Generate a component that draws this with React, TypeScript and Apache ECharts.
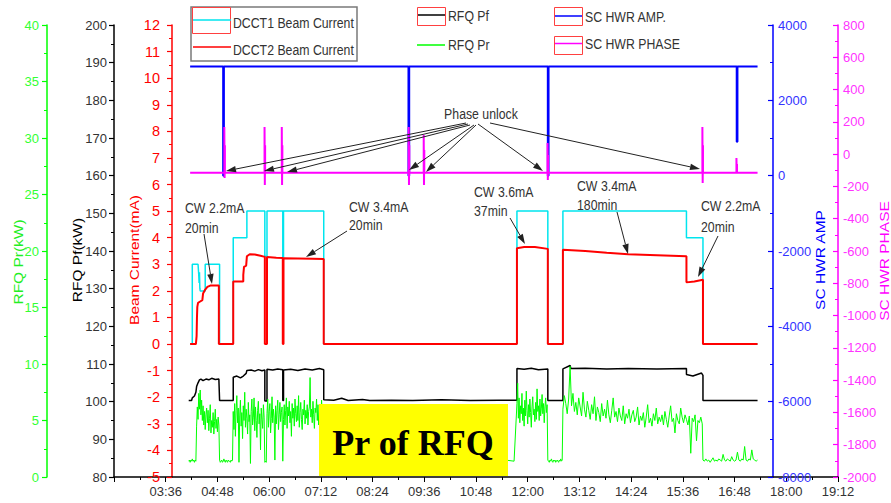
import React, { useEffect, useRef } from 'react';
import * as echarts from 'echarts';

// time in minutes since 00:00
const dcct1: [number, number][] = [
  [250, 0], [253, 0], [253, 3], [261, 3], [262, 2.6], [262.5, 2.3], [263, 2.7], [263.5, 2.1], [264, 2], [271, 2], [271, 3],
  [291, 3], [291, 0], [310, 0], [310, 4], [329, 4], [329, 5], [354, 5], [354, 3.3], [357, 3.3], [357, 5], [379, 5],
  [379, 3.2], [380, 3.2], [380, 5], [436, 5], [436, 0], [705, 0], [705, 5], [748, 5], [748, 0], [769, 0], [769, 5],
  [941, 5], [941, 4], [964, 4], [964, 0], [1040, 0],
];

const dcct2: [number, number][] = [
  [250, 0], [258, 0], [259, 0.3], [259.5, 1.0], [260, 1.4], [261, 1.55], [264, 1.6], [267, 1.65], [268, 1.9], [271, 2.05],
  [274, 2.15], [278, 2.2], [290, 2.2], [290, 0], [310, 0], [310, 2.35], [324, 2.35], [324, 2.6], [325, 2.9], [328, 2.95],
  [329, 3.3], [333, 3.38], [340, 3.37], [348, 3.32], [354, 3.28], [354, 0], [357, 0], [357, 3.27], [370, 3.25], [379, 3.24],
  [379, 0], [380, 0], [380, 3.23], [400, 3.22], [420, 3.21], [436, 3.2], [436, 0], [705, 0], [705, 3.6], [715, 3.65],
  [730, 3.65], [748, 3.58], [748, 0], [769, 0], [769, 3.55], [800, 3.5], [830, 3.43], [860, 3.38], [900, 3.34], [941, 3.3],
  [941, 2.32], [952, 2.35], [964, 2.42], [964, 0], [1040, 0],
];

const rfqPf: [number, number][] = [
  [248, 100.3], [252, 100.3], [253, 101], [256, 101.5], [258, 102.5], [259, 104], [261, 105], [263, 105.8], [265, 106],
  [268, 105.6], [272, 106], [276, 105.8], [280, 106.2], [285, 105.9], [290, 106], [291, 100.3], [310, 100.3], [310, 106.5],
  [315, 106.8], [320, 106.3], [324, 106.8], [328, 107.5], [329, 108.3], [335, 108.4], [340, 108.1], [345, 108.5], [350, 108.2],
  [354, 108.4], [354, 100.2], [357, 100.2], [357, 108.6], [365, 108.4], [372, 108.7], [379, 108.5], [379, 100.3], [380, 100.3],
  [380, 108.4], [390, 108.6], [400, 108.3], [410, 108.7], [420, 108.4], [430, 108.8], [436, 108.5], [436, 100.5], [450, 100.4],
  [461, 100.9], [470, 100.3], [490, 100.6], [500, 100.3], [530, 100.4], [560, 100.3], [600, 100.5], [640, 100.3], [680, 100.4],
  [705, 100.4], [705, 108.8], [715, 108.6], [725, 108.9], [735, 108.5], [748, 108.7], [748, 100.3], [769, 100.3], [769, 108.7],
  [779, 109.6], [780, 108.8], [800, 108.9], [830, 108.7], [860, 108.8], [900, 108.7], [941, 108.8], [941, 107.2], [950, 106.8],
  [962, 107.6], [964, 107], [964, 100.3], [1040, 100.3],
];

// RFQ Pr: runs of samples (start minute, step in minutes, values in kW)
const prBase1 = [1.4, 1.5, 1.3, 1.5, 1.4, 1.6, 1.4, 1.5, 1.3, 1.5, 1.4];
const prBeam1 = [4.5, 6.2, 5.1, 7.4, 6.0, 7.7, 5.5, 6.8, 5.0, 6.3, 4.6, 5.8, 4.2, 5.5, 6.1, 4.8, 5.9, 4.1, 5.2, 6.4, 3.9, 5.0, 4.4, 5.7, 3.8, 4.9, 6.0, 4.3, 5.1, 4.0, 5.3, 4.6];
const prBase2 = [1.5, 1.3, 1.4, 1.5, 1.3, 1.4, 1.6, 1.4, 1.3, 1.5, 1.4, 1.3, 1.5, 1.4, 1.4, 1.3, 1.5, 1.4, 1.5];
const prBeam2 = [5.8, 4.2, 6.5, 3.6, 5.9, 7.2, 4.8, 6.1, 1.3, 5.4, 6.8, 4.5, 5.7, 3.4, 6.3, 5.0, 7.5, 4.4, 6.0, 5.2, 3.8, 6.6, 4.9, 5.5, 1.2, 5.8, 6.9, 4.6, 5.3, 7.0, 4.1, 6.2, 5.0, 3.5, 5.9, 6.7, 4.7, 5.6, 2.4, 6.1, 5.1, 4.3, 6.4, 5.3];
const prGap1 = [1.3, 1.4, 1.3];
const prBeam3 = [5.6, 6.9, 4.4, 5.8, 6.5, 3.9, 5.2, 7.1, 4.8, 6.0, 5.3, 1.5, 6.3, 4.7, 5.9, 6.8, 4.2, 5.5, 6.6, 4.9, 5.7, 6.2];
const prGap2 = [1.4];
const prBeam4 = [5.1, 6.4, 4.6, 5.9, 7.0, 4.3, 6.2, 5.4, 6.7, 4.8, 5.8, 3.6, 6.5, 5.2, 6.1, 4.5, 6.9, 5.6, 4.9, 6.3, 5.0, 7.2, 4.4, 5.7, 6.6, 5.1, 4.2, 6.0, 5.5, 6.8, 4.7, 5.9, 5.2, 6.4, 4.6, 5.8, 6.2, 8.8, 5.3, 6.0, 4.8, 6.7, 5.5, 4.3, 6.1, 5.7, 6.9, 5.0, 6.4, 4.6, 5.9, 6.3, 5.2, 6.8, 5.6, 6.1, 5.8];
const prBase3 = [1.5, 1.4, 1.6, 1.4, 1.5, 1.3, 1.5, 1.4, 1.6, 1.5, 1.4, 1.3, 1.5, 1.4, 1.6, 1.5, 1.4, 1.5, 1.3, 1.5, 1.4, 1.5, 1.4];
const prBeam5 = [6.5, 8.3, 5.2, 7.0, 4.8, 6.3, 5.6, 7.4, 5.0, 6.1, 4.5, 6.8, 5.4, 7.6, 5.9, 4.7, 6.4, 5.3, 6.9, 5.7, 4.4, 6.2, 7.1, 5.5, 6.0, 4.9, 6.6, 5.1, 7.8, 5.8, 6.3, 5.0, 6.9, 5.4, 6.1, 7.3, 5.6, 6.5, 4.8, 6.2, 7.0, 5.7, 6.4];
const prBase4 = [1.5, 1.4, 1.3, 1.5, 1.4, 1.6, 1.4, 1.3, 1.5, 1.4, 1.5, 1.3, 1.4, 1.5, 1.4, 1.3, 1.5, 1.4, 1.6, 1.4, 1.5];
const prBeam6 = [
  6.0, 7.2, 6.5, 5.6, 6.9, 9.8, 6.3, 7.4, 5.8, 6.6, 5.5, 7.0, 6.2, 5.4, 7.5, 6.0, 5.3, 6.7, 5.9, 5.1,
  6.4, 5.6, 7.1, 5.0, 6.2, 5.7, 4.9, 6.5, 5.4, 6.0, 5.2, 6.8, 5.5, 4.8, 5.9, 7.0, 5.3, 5.8, 4.9, 6.1,
  5.4, 5.0, 6.3, 4.7, 5.6, 5.2, 6.0, 4.8, 5.5, 5.9, 4.9, 5.3, 6.2, 4.6, 5.4, 5.0, 5.7, 4.4, 5.3, 6.4,
  4.8, 5.2, 4.5, 5.6, 5.0, 6.1, 4.7, 5.3, 4.9, 5.5, 4.6, 5.8, 5.1, 4.4, 5.4, 6.3, 4.9, 5.2, 3.9, 5.6,
  5.0, 4.7, 6.1, 5.3, 4.8, 5.5, 5.1, 4.6, 5.4, 2.1, 5.2, 4.9, 5.5, 3.2, 5.0, 4.8, 5.3, 4.7,
];
const prBase5 = [1.5, 1.4, 1.6, 1.4, 1.5, 1.3, 1.5, 1.7, 1.4, 1.5, 1.4, 1.6, 1.5, 1.4, 2.0, 1.5, 1.4, 1.6, 1.5, 1.4, 1.8, 1.5, 1.4, 1.5, 2.2, 1.5, 1.4, 1.6, 1.5, 2.7, 1.5, 1.4, 1.6, 1.5, 2.4, 1.6, 1.5, 1.4, 1.5];

const prRuns: [number, number, number[]][] = [
  [248, 1, prBase1], [259, 1, prBeam1], [291, 1, prBase2], [310, 1, prBeam2], [354, 1, prGap1], [357, 1, prBeam3],
  [379, 1, prGap2], [380, 1, prBeam4], [437, 12, prBase3], [705, 1, prBeam5], [748, 1, prBase4], [769, 2, prBeam6],
  [964, 2, prBase5],
];

const hwrAmp: [number, number][] = [
  [250, 2900], [296, 2900], [296, 0], [297, 0], [297, 2900], [554, 2900], [554, 0], [555, 0], [555, 2900], [748, 2900],
  [748, 0], [749, 0], [749, 2900], [1011, 2900], [1011, 900], [1012, 900], [1012, 2900], [1040, 2900],
];

const phaseBase = -115;
// spikes: [minute, top, bottom]
const phaseSpikes: [number, number, number][] = [
  [298, 168, -148], [354, 168, -191], [378, 168, -191], [554.7, 168, -191], [575.6, 119, -191], [748, 69, -160],
  [963.6, 168, -179], [1011, -24, -117],
];

const FONT = "'Liberation Sans', Arial, sans-serif";
const SX = 0.82; // horizontal compression seen in the reference

function hhmm(m: number) {
  const h = Math.floor(m / 60);
  const mm = Math.round(m - h * 60);
  return `${String(h).padStart(2, '0')}:${String(mm).padStart(2, '0')}`;
}

function arrow(x1: number, y1: number, x2: number, y2: number, color = '#222') {
  const dx = x2 - x1, dy = y2 - y1;
  const L = Math.hypot(dx, dy);
  const ux = dx / L, uy = dy / L;
  const hl = 10, hw = 3.2;
  const bx = x2 - ux * hl, by = y2 - uy * hl;
  const px = -uy * hw, py = ux * hw;
  return [
    { type: 'line', z: 110, shape: { x1, y1, x2: bx, y2: by }, style: { stroke: color, lineWidth: 1 } },
    { type: 'polygon', z: 110, shape: { points: [[x2, y2], [bx + px, by + py], [bx - px, by - py]] }, style: { fill: color } },
  ];
}

function label(text: string, x: number, y: number, opts: any = {}) {
  return {
    type: 'text', x, y, z: 110, scaleX: SX,
    style: {
      text, fill: opts.fill || '#333', fontSize: opts.fontSize || 15, fontFamily: FONT,
      align: opts.align || 'left', verticalAlign: 'middle',
    },
  };
}

function vTitle(text: string, x: number, y: number, fill: string) {
  return {
    type: 'text', x, y, rotation: Math.PI / 2, scaleY: 0.86, z: 110,
    style: { text, fill, fontSize: 15.5, fontFamily: FONT, align: 'center', verticalAlign: 'middle' },
  };
}

function yAx(o: any) {
  return {
    type: 'value', position: o.position, offset: o.offset, min: o.min, max: o.max, interval: o.interval,
    axisLine: { show: true, onZero: false, lineStyle: { color: o.color, width: 1.5 } },
    axisTick: { show: true, length: 5, inside: !!o.inside, lineStyle: { color: o.color, width: 1.2 } },
    minorTick: { show: true, splitNumber: 2, length: 3, lineStyle: { color: o.color, width: 1 } },
    splitLine: { show: false }, minorSplitLine: { show: false },
    axisLabel: { color: o.labelColor, fontSize: o.fontSize || 13, fontFamily: FONT, margin: o.margin, formatter: (v: number) => String(v) },
  };
}

export default function App() {
  const ref = useRef<HTMLDivElement>(null);
  useEffect(() => {
    document.body.style.margin = '0';
    const chart = echarts.init(ref.current!, undefined, { renderer: 'svg' });

    const prData: [number, number][] = [];
    prRuns.forEach(([start, step, vals]) => vals.forEach((v, i) => prData.push([start + i * step, v])));

    const phaseData: [number, number][] = [[250, phaseBase]];
    phaseSpikes.forEach(([t, top, bot]) => {
      phaseData.push([t - 0.4, phaseBase], [t - 0.4, top], [t, bot], [t + 0.4, top * 0.6 + phaseBase * 0.4], [t + 0.4, phaseBase]);
    });
    phaseData.push([1040, phaseBase]);

    const line = (data: any, color: string, width: number, yAxisIndex: number) => ({
      type: 'line', data, yAxisIndex, showSymbol: false, symbol: 'none', lineStyle: { color, width }, itemStyle: { color },
    });

    const legendItems = [
      { type: 'rect', z: 105, shape: { x: 191, y: 7, width: 166, height: 54 }, style: { fill: '#fff', stroke: '#7a7a7a', lineWidth: 1.5 } },
      { type: 'rect', z: 106, shape: { x: 192.5, y: 7.5, width: 38, height: 26 }, style: { fill: 'none', stroke: '#ff4040', lineWidth: 1 } },
      { type: 'line', z: 107, shape: { x1: 193, y1: 20, x2: 231, y2: 20 }, style: { stroke: '#00e5ee', lineWidth: 1.5 } },
      label('DCCT1 Beam Current', 233, 23),
      { type: 'line', z: 107, shape: { x1: 193, y1: 47, x2: 231, y2: 47 }, style: { stroke: '#ff0000', lineWidth: 1.5 } },
      label('DCCT2 Beam Current', 233, 50),
      { type: 'rect', z: 106, shape: { x: 417.5, y: 7.5, width: 28, height: 18 }, style: { fill: 'none', stroke: '#ff4040', lineWidth: 1 } },
      { type: 'line', z: 107, shape: { x1: 418, y1: 15, x2: 445, y2: 15 }, style: { stroke: '#000', lineWidth: 1.5 } },
      label('RFQ Pf', 448, 16),
      { type: 'line', z: 107, shape: { x1: 417, y1: 45, x2: 445, y2: 45 }, style: { stroke: '#00ff00', lineWidth: 1.5 } },
      label('RFQ Pr', 448, 45),
      { type: 'rect', z: 106, shape: { x: 554.5, y: 7.5, width: 28, height: 18 }, style: { fill: 'none', stroke: '#ff4040', lineWidth: 1 } },
      { type: 'line', z: 107, shape: { x1: 555, y1: 16, x2: 582, y2: 16 }, style: { stroke: '#0000ff', lineWidth: 1.5 } },
      label('SC HWR AMP.', 585, 17),
      { type: 'rect', z: 106, shape: { x: 554.5, y: 36.5, width: 28, height: 18 }, style: { fill: 'none', stroke: '#ff4040', lineWidth: 1 } },
      { type: 'line', z: 107, shape: { x1: 555, y1: 43.5, x2: 582, y2: 43.5 }, style: { stroke: '#ff00ff', lineWidth: 1.5 } },
      label('SC HWR PHASE', 585, 44),
    ];

    const annotations = [
      label('Phase unlock', 481, 114, { align: 'center' }),
      ...arrow(466, 123, 226, 171),
      ...arrow(468, 124, 264, 171),
      ...arrow(470, 125, 287, 172),
      ...arrow(474, 125, 409, 170),
      ...arrow(476, 125, 426, 172),
      ...arrow(478, 124, 543, 171),
      ...arrow(490, 123, 700, 169),
      label('CW 2.2mA', 185, 208), label('20min', 185, 228),
      ...arrow(204, 234, 212, 284),
      label('CW 3.4mA', 349, 207), label('20min', 349, 225),
      ...arrow(347, 231, 306, 257),
      label('CW 3.6mA', 474, 192), label('37min', 474, 211),
      ...arrow(510, 218, 525, 244),
      label('CW 3.4mA', 577, 186), label('180min', 577, 205),
      ...arrow(617, 212, 628, 254),
      label('CW 2.2mA', 701, 206), label('20min', 701, 227),
      ...arrow(718, 236, 698, 277),
    ];

    const titles = [
      vTitle('RFQ Pr(kW)', 18, 262, '#22ee22'),
      vTitle('RFQ Pf(kW)', 77, 260, '#000'),
      vTitle('Beam Current(mA)', 134, 260, '#ff0000'),
      vTitle('SC HWR AMP', 820, 260, '#0000ff'),
      vTitle('SC HWR PHASE', 884, 261, '#ff00ff'),
    ];

    const box = [
      { type: 'rect', z: 120, shape: { x: 319, y: 404, width: 189, height: 72 }, style: { fill: '#ffff00' } },
      {
        type: 'text', x: 413, y: 443, z: 121,
        style: { text: 'Pr of RFQ', fill: '#000', fontSize: 36, fontWeight: 'bold', fontFamily: "'Liberation Serif', 'Times New Roman', serif", align: 'center', verticalAlign: 'middle' },
      },
    ];

    chart.setOption({
      animation: false,
      backgroundColor: '#fff',
      grid: { left: 114, right: 53, top: 25, bottom: 26, containLabel: false },
      xAxis: {
        type: 'value', min: 144, max: 1152, interval: 72,
        axisLine: { show: true, onZero: false, lineStyle: { color: '#000', width: 1.5 } },
        axisTick: { show: true, length: 5, lineStyle: { color: '#000' } },
        minorTick: { show: true, splitNumber: 2, length: 3, lineStyle: { color: '#000' } },
        splitLine: { show: false },
        axisLabel: { color: '#333', fontSize: 13, fontFamily: FONT, margin: 8, showMinLabel: false, formatter: (v: number) => (v === 144 ? '' : hhmm(v)) },
      },
      yAxis: [
        yAx({ position: 'left', offset: 67, min: 0, max: 40, interval: 5, color: '#00ff00', labelColor: '#33ff33', margin: 8 }),
        yAx({ position: 'left', offset: 0, min: 80, max: 200, interval: 10, color: '#000', labelColor: '#333', margin: 7 }),
        yAx({ position: 'left', offset: -58, min: -5, max: 12, interval: 1, color: '#ff0000', labelColor: '#ff0000', margin: 12, fontSize: 14.5 }),
        yAx({ position: 'right', offset: -65, min: -8000, max: 4000, interval: 2000, color: '#0000ff', labelColor: '#3333ff', margin: 5, inside: true }),
        yAx({ position: 'right', offset: 0, min: -2000, max: 800, interval: 200, color: '#ff00ff', labelColor: '#ff33ff', margin: 5, inside: true }),
      ],
      series: [
        line(dcct1, '#00e5ee', 1.5, 2),
        line(dcct2, '#ff0000', 2, 2),
        line(rfqPf, '#000000', 1.5, 1),
        line(prData, '#00ff00', 1, 0),
        line(hwrAmp, '#0000ff', 2, 3),
        line(phaseData, '#ff00ff', 2, 4),
      ],
      graphic: [...legendItems, ...annotations, ...titles, ...box],
    });
    return () => chart.dispose();
  }, []);
  return <div ref={ref} style={{ position: 'fixed', left: 0, top: 0, width: 891, height: 503 }} />;
}
